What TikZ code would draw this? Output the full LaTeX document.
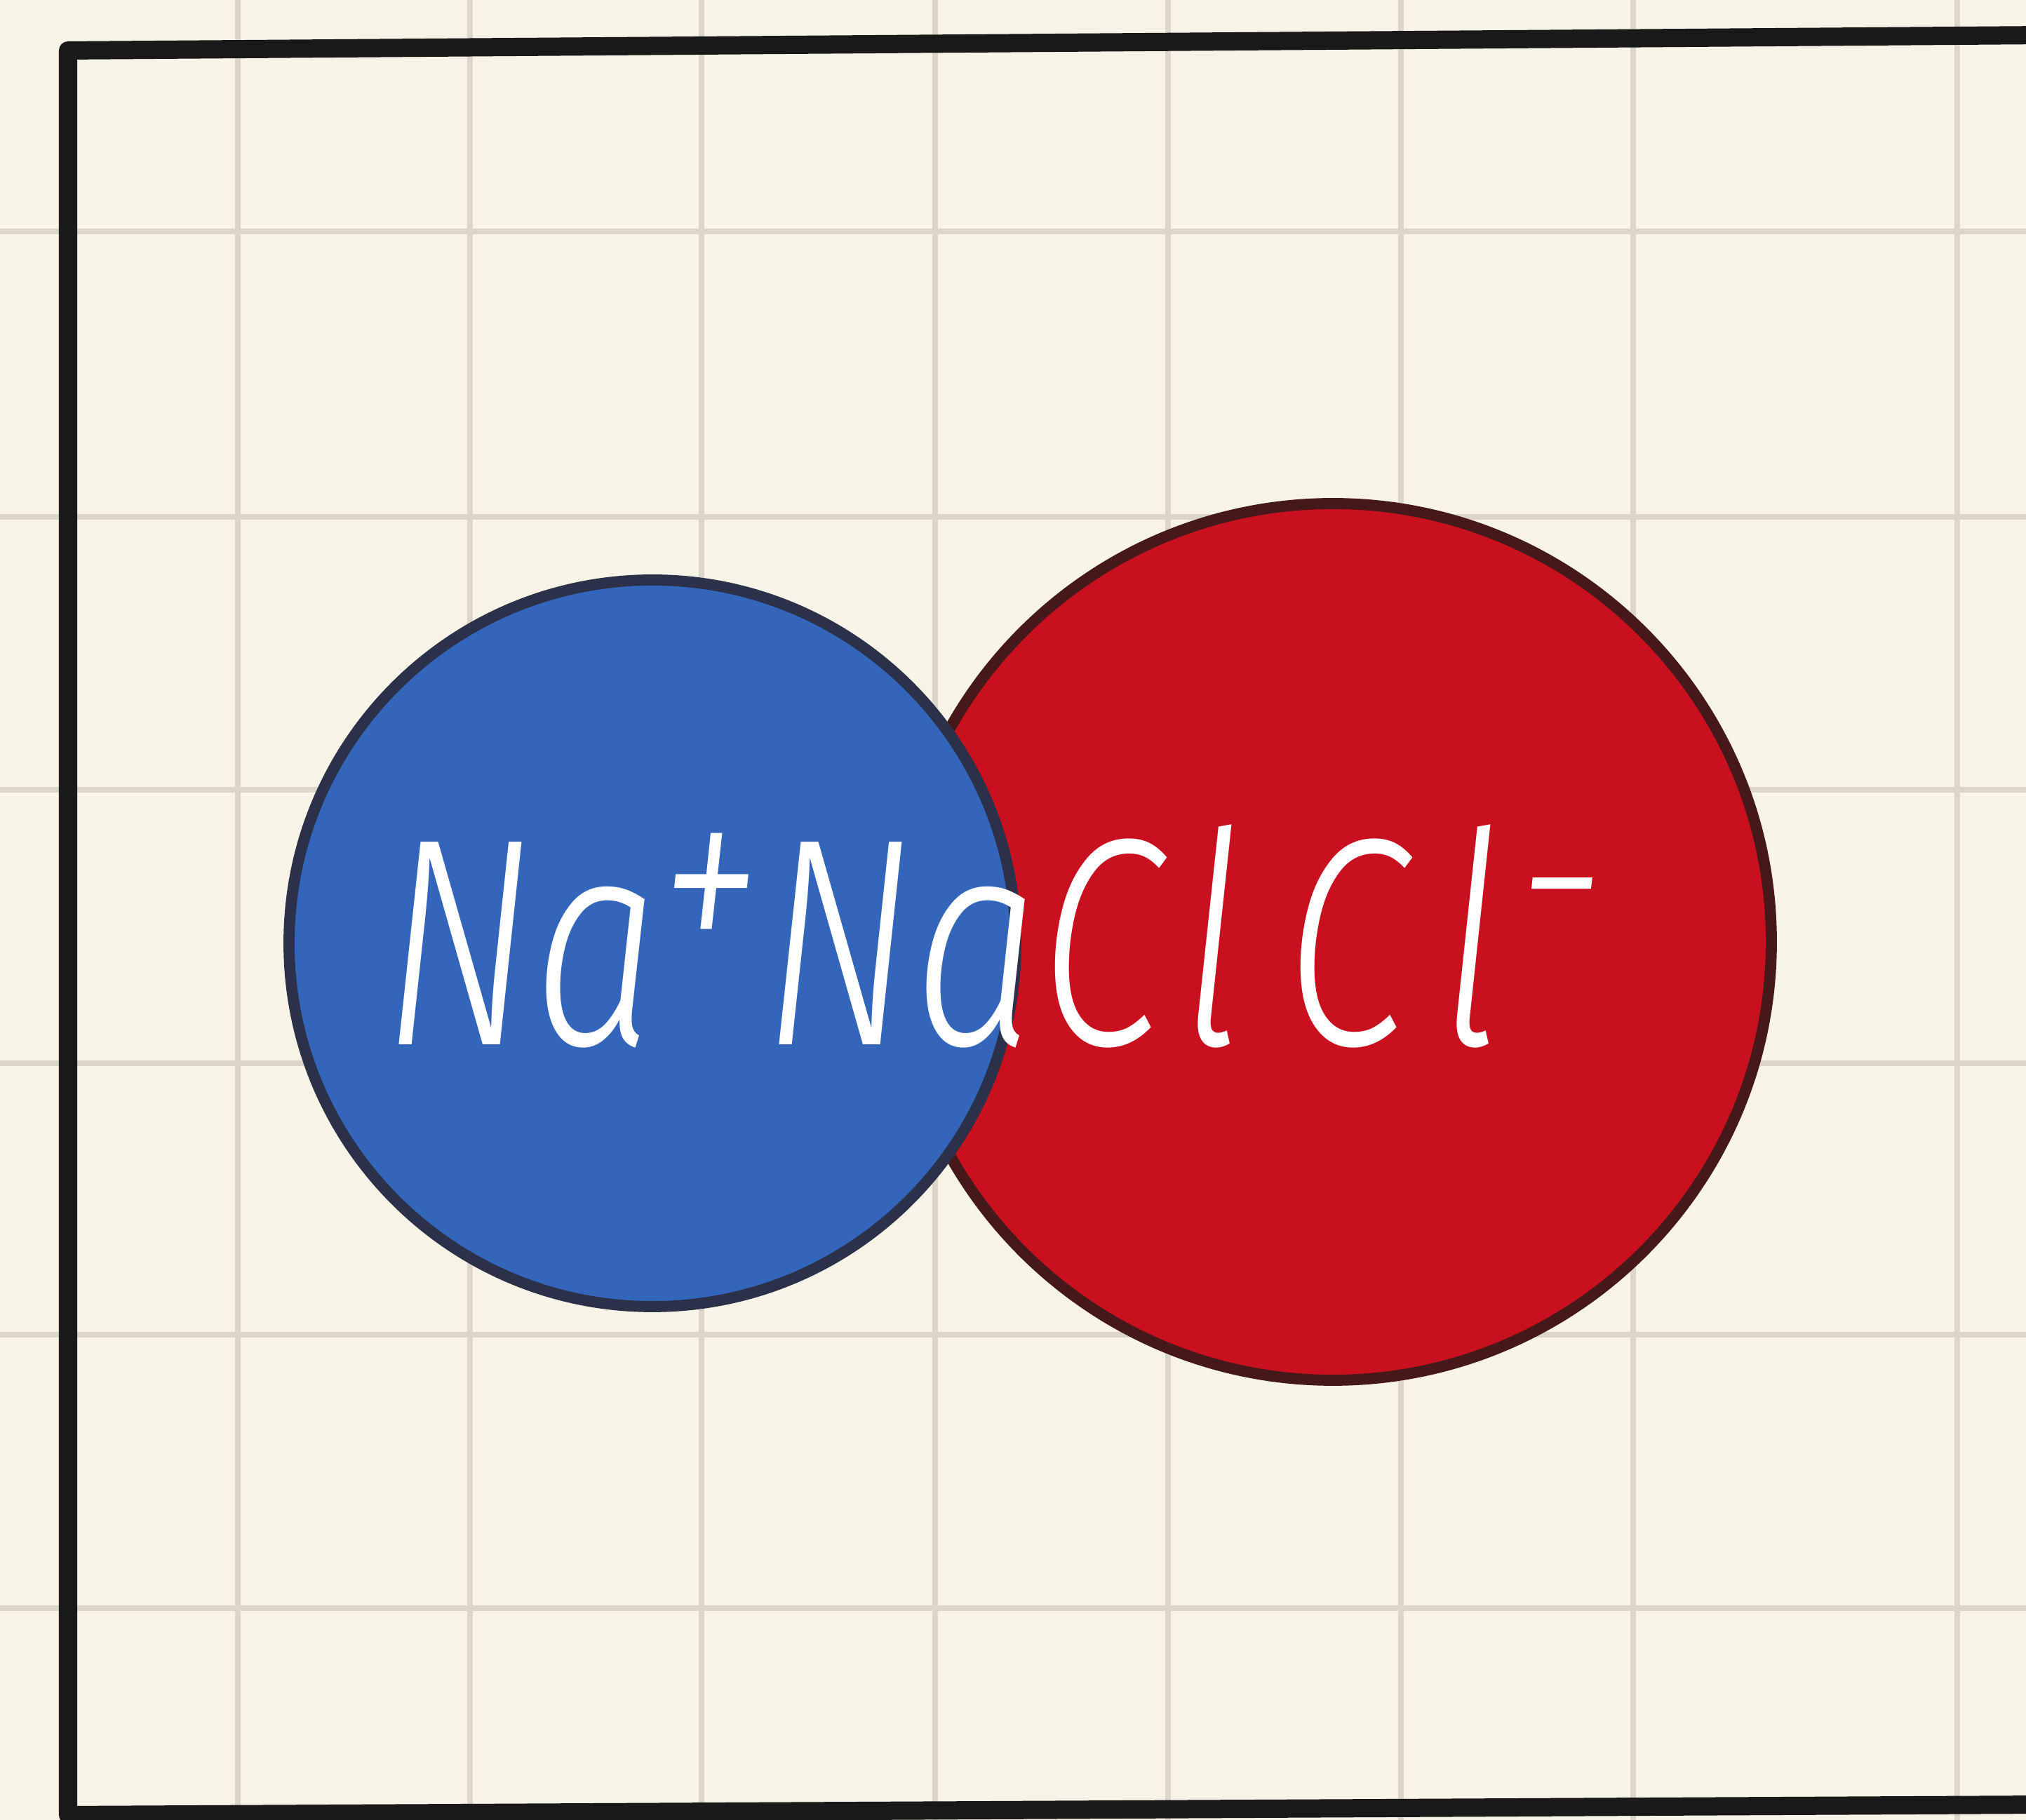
\documentclass[tikz,border=0pt]{standalone}
\usepackage{fontspec}
\usepackage{tikz}
\usetikzlibrary{positioning}
\newfontfamily\ionfont{Fira Sans Light Italic}
\definecolor{paper}{RGB}{247,243,230}
\definecolor{gridgray}{RGB}{220,214,202}
\definecolor{sodiumblue}{RGB}{51,102,187}
\definecolor{chlorred}{RGB}{200,16,30}
\definecolor{blueedge}{RGB}{42,49,72}
\definecolor{rededge}{RGB}{69,25,26}
\newcommand{\charge}[2][110]{\raisebox{1.05cm}{\fontsize{#1}{#1}\selectfont #2}}

\begin{document}
\begin{tikzpicture}[
    gridline/.style={gridgray,line width=2.3pt},
    frameline/.style={black!90,line width=7.4pt,line cap=round,line join=round},
    ion/.style={circle,draw,line width=4.5pt,inner sep=0pt}
  ]
        \useasboundingbox[fill=paper] (0,0) rectangle (28.88,25.95);
        % squared paper
        \foreach \x in {3.39,6.70,10.00,13.33,16.65,19.97,23.28,27.90}
          \draw[gridline] (\x,0) -- (\x,25.95);
        \foreach \y in {22.65,18.58,14.69,10.79,6.92,3.02}
          \draw[gridline] (0,\y) -- (28.88,\y);
        \draw[frameline] (29.2,25.45) -- (0.97,25.23) -- (0.97,0.07) -- (29.2,0.22);
        % the two ions
        \node[ion,fill=chlorred,draw=rededge,minimum size=12.5cm] (cl) at (19.00,12.52) {};
        \node[ion,fill=sodiumblue,draw=blueedge,minimum size=10.36cm] (na) at (9.30,12.50) {};
        \node[anchor=base west,inner sep=0pt,text=white] (formula) at (5.45,11.05)
          {\scalebox{0.76}[1]{\fontsize{120}{140}\selectfont\ionfont
           Na\charge{+}\hspace{0.05cm}NaC\hspace{0.35cm}l\hspace{0.75cm}C\hspace{0.6cm}l\hspace{0.3cm}%
           \charge[90]{\raisebox{0.2cm}{\char"2212}}}};
      \end{tikzpicture}
\end{document}
